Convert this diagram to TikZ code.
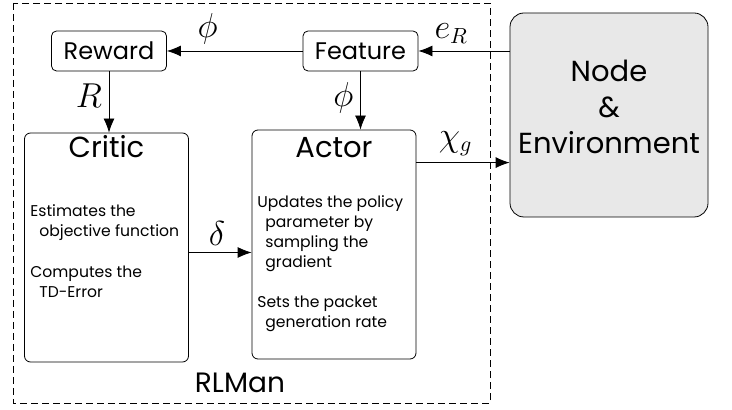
\documentclass[tikz,border=0pt]{standalone}
\usepackage{amsmath}
\usepackage{fontspec}
\setmainfont{Poppins}
\usetikzlibrary{arrows.meta, positioning}
\tikzset{
    auto, line width=0.6pt,
    small/.style ={rectangle, draw, rounded corners=2.5pt, minimum width=57.5pt,
                   minimum height=20pt, font=\fontsize{12}{14}\selectfont},
    block/.style ={rectangle, draw, rounded corners=3pt, minimum width=82pt,
                   minimum height=114.5pt},
    env/.style ={rectangle, draw, rounded corners=7pt, fill=gray!18, minimum width=99pt,
                 minimum height=102pt},
    title/.style ={anchor=base, font=\fontsize{14.5}{16}\selectfont},
    txt/.style ={anchor=north west, inner sep=0pt, align=left,
                 font=\fontsize{7.8}{10}\selectfont},
    lbl/.style ={font=\fontsize{16}{18}\selectfont}
    }

\begin{document}
\begin{tikzpicture}[
      x=0.5pt, y=-0.5pt, % one unit per pixel
      >={Latex[length=7pt,width=5.5pt]}
    ]
    \useasboundingbox (0,0) rectangle (732,410);

    % the RLMan frame
    \draw[dashed, dash pattern=on 3.5pt off 2pt] (13,3) rectangle (490,403);
    \node[anchor=base, font=\fontsize{14}{16}\selectfont] (rlman) at (240,393) {RLMan};

    \node[small] (reward) at (109,51) {Reward};
    \node[small] (feature) at (360.5,51) {Feature};

    \node[block] (critic) at (106.5,247.5) {};
    \node[block] (actor) at (334,244.5) {};
    \node[env] (env) at (609,115) {};
    \node[align=center, font=\fontsize{14.5}{18}\selectfont] (envtxt) at (609,107) {Node\\\&\\Environment};

    \node[title] (ctitle) at ([yshift=-12.5pt]critic.north) {Critic};
    \node[title] (atitle) at ([yshift=-14pt]actor.north) {Actor};

    \node[txt] (c1) at (30,204) {Estimates the\\\hspace*{4.5pt}objective function};
    \node[txt] (c2) at (30,266) {Computes the\\\hspace*{4.5pt}TD-Error};
    \node[txt] (a1) at (257,195) {Updates the policy\\\hspace*{4pt}parameter by\\\hspace*{4pt}sampling the\\\hspace*{4pt}gradient};
    \node[txt] (a2) at (257,296) {Sets the packet\\\hspace*{4pt}generation rate};

    \path[->] (feature) edge node[lbl, above, pos=0.7] {$\phi$} (reward);
    \path[->] (reward.south) edge node[lbl, left, pos=0.4] {$R$} (reward.south |- critic.north);
    \path[->] (feature.south) edge node[lbl, left, pos=0.45] {$\phi$} (feature.south |- actor.north);
    \path[->] (env.west |- feature.east) edge node[lbl, above, pos=0.64] {$e_R$} (feature.east);
    \path[->] ([yshift=-2.5pt]critic.east) edge node[lbl, above, pos=0.45] {$\delta$} ([yshift=-2.5pt]critic.east -| actor.west);
    \path[->] ([yshift=-16.5pt]actor.north east) edge node[lbl, above, pos=0.42] {$\chi_g$} ([yshift=-16.5pt]actor.north east -| env.west);
\end{tikzpicture}
\end{document}
